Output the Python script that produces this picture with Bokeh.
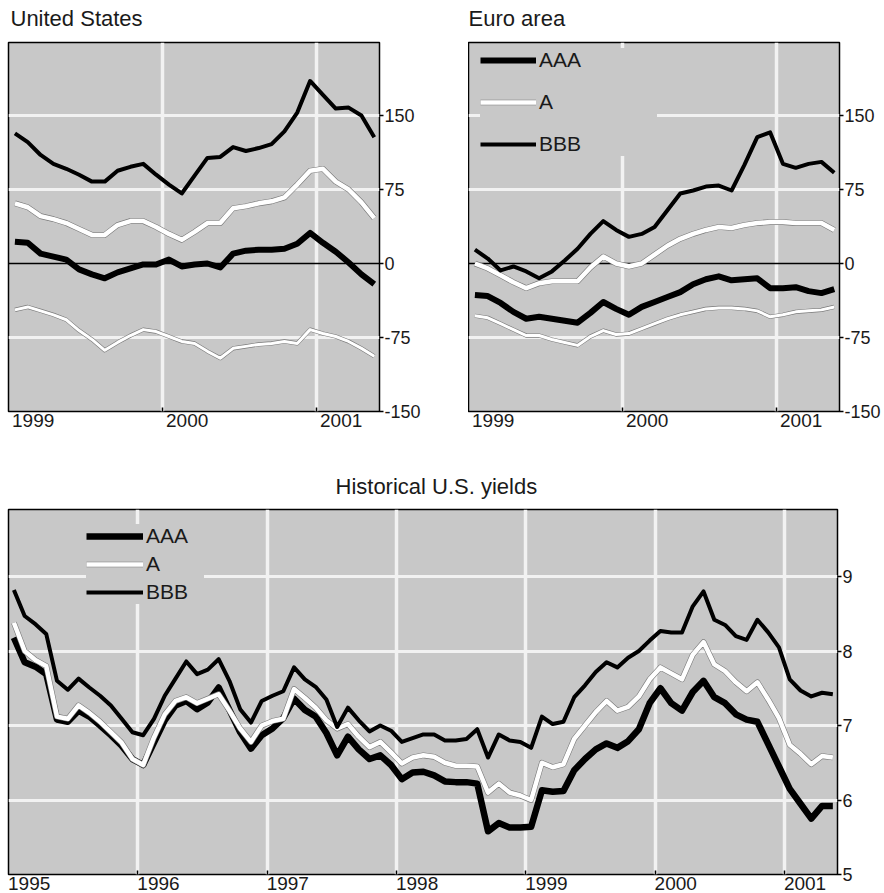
import pandas as pd
from bokeh.plotting import figure
from bokeh.models import (FixedTicker, Range1d, Span, Legend, LegendItem, Title,
                          CustomJSTickFormatter)
from bokeh.layouts import column, row
from bokeh.embed import file_html
from bokeh.resources import INLINE

# ---------------- data ----------------
top_months = [str(p) for p in pd.period_range("1999-01", "2001-05", freq="M")]
hist_months = [str(p) for p in pd.period_range("1995-01", "2001-05", freq="M")]

# United States spreads (basis points)
us_bbb = [132, 123, 110, 101, 96, 90, 83, 83, 94, 98, 101, 90, 80, 71, 89, 107,
          108, 118, 114, 117, 121, 134, 153, 185, 171, 157, 158, 150, 128]
us_a = [61, 57, 48, 45, 41, 35, 29, 29, 39, 43, 43, 37, 30, 24, 32, 41, 41, 56,
        58, 61, 63, 67, 80, 94, 96, 83, 75, 62, 46]
us_aaa = [22, 21, 10, 7, 4, -6, -11, -15, -9, -5, -1, -1, 4, -3, -1, 0, -4, 10,
          13, 14, 14, 15, 20, 31, 21, 12, 1, -11, -21]
us_aa = [-47, -44, -48, -52, -57, -68, -77, -88, -80, -73, -67, -69, -74, -79,
         -81, -89, -96, -86, -84, -82, -81, -79, -81, -67, -71, -74, -79, -86, -94]

# Euro area spreads (basis points)
eu_bbb = [14, 5, -7, -3, -8, -15, -8, 3, 15, 30, 43, 34, 27, 30, 37, 54, 71, 74,
          78, 79, 74, 100, 128, 133, 101, 97, 101, 103, 92]
eu_a = [0, -5, -12, -19, -25, -20, -18, -18, -18, -4, 7, 0, -3, 0, 9, 18, 25, 30,
        34, 37, 36, 39, 41, 42, 42, 41, 41, 41, 34]
eu_aaa = [-32, -33, -40, -49, -56, -54, -56, -58, -60, -50, -39, -46, -52, -44,
          -39, -34, -29, -21, -16, -13, -17, -16, -15, -25, -25, -24, -28, -30, -26]
eu_aa = [-53, -55, -61, -67, -73, -73, -77, -80, -83, -74, -68, -72, -71, -66,
         -61, -56, -52, -49, -46, -45, -45, -46, -48, -54, -52, -49, -48, -47, -44]

# Historical U.S. yields (percent)
hist_bbb = [8.82, 8.47, 8.36, 8.23, 7.60, 7.48, 7.63, 7.51, 7.40, 7.27, 7.09, 6.91,
            6.87, 7.09, 7.40, 7.63, 7.86, 7.69, 7.75, 7.89, 7.60, 7.22, 7.04, 7.33,
            7.40, 7.46, 7.78, 7.62, 7.52, 7.35, 6.98, 7.24, 7.07, 6.92, 7.00, 6.93,
            6.78, 6.83, 6.88, 6.88, 6.80, 6.80, 6.82, 6.95, 6.57, 6.88, 6.80, 6.78,
            6.70, 7.12, 7.02, 7.05, 7.38, 7.54, 7.72, 7.85, 7.78, 7.91, 8.00, 8.14,
            8.27, 8.25, 8.25, 8.60, 8.80, 8.42, 8.35, 8.20, 8.15, 8.42, 8.25, 8.05,
            7.62, 7.47, 7.39, 7.44, 7.42]
hist_a = [8.38, 8.00, 7.88, 7.80, 7.12, 7.09, 7.27, 7.17, 7.05, 6.91, 6.77, 6.55,
          6.47, 6.84, 7.15, 7.33, 7.38, 7.30, 7.36, 7.42, 7.20, 6.96, 6.78, 7.00,
          7.06, 7.09, 7.49, 7.37, 7.24, 7.07, 6.96, 7.02, 6.85, 6.71, 6.78, 6.64,
          6.49, 6.57, 6.60, 6.58, 6.50, 6.46, 6.46, 6.45, 6.10, 6.22, 6.10, 6.06,
          6.00, 6.50, 6.44, 6.48, 6.82, 7.00, 7.18, 7.33, 7.20, 7.25, 7.39, 7.62,
          7.78, 7.70, 7.62, 7.95, 8.12, 7.82, 7.73, 7.58, 7.46, 7.58, 7.35, 7.10,
          6.74, 6.62, 6.48, 6.59, 6.57]
hist_aaa = [8.18, 7.85, 7.79, 7.69, 7.08, 7.05, 7.20, 7.12, 7.00, 6.87, 6.73, 6.55,
            6.47, 6.77, 7.07, 7.27, 7.33, 7.22, 7.31, 7.51, 7.21, 6.91, 6.69, 6.87,
            6.96, 7.10, 7.36, 7.21, 7.12, 6.90, 6.60, 6.85, 6.68, 6.55, 6.60, 6.47,
            6.28, 6.37, 6.38, 6.33, 6.25, 6.24, 6.24, 6.22, 5.58, 5.69, 5.63, 5.63,
            5.64, 6.13, 6.11, 6.12, 6.40, 6.55, 6.68, 6.76, 6.70, 6.79, 6.95, 7.30,
            7.50, 7.30, 7.20, 7.45, 7.60, 7.38, 7.30, 7.15, 7.08, 7.05, 6.75, 6.45,
            6.15, 5.95, 5.75, 5.92, 5.92]

top_years = [1999, 2000, 2001]
hist_years = [1995, 1996, 1997, 1998, 1999, 2000, 2001]
spread_ticks = [-150, -75, 0, 75, 150]
yield_ticks = [5, 6, 7, 8, 9]


def frac_year(months):
    out = []
    for m in months:
        y, mo = m.split("-")
        out.append(int(y) + (int(mo) - 0.5) / 12)
    return out


tx = frac_year(top_months)
hx = frac_year(hist_months)

# ---------------- style ----------------
FONT = "Liberation Sans"
BG = "#c8c8c8"
GRID = "#f2f2f2"
TEXT = "#1a1a1a"
EDGE = "#7a7a7a"
LABEL_SHIFT = 0.16


def make_fig(title, title_offset, gap, xr, yr, fw, fh, mbl, mbr, mbt, mbb,
             years, yticks, ygrid):
    p = figure(title=None, frame_width=fw, frame_height=fh,
               x_range=Range1d(*xr), y_range=Range1d(*yr),
               y_axis_location="right", toolbar_location=None, output_backend="svg",
               min_border_left=mbl, min_border_right=mbr, min_border_top=mbt,
               min_border_bottom=mbb)
    # thin spacer title next to the frame, then the real title above it
    p.add_layout(Title(text=" ", text_font_size="1px", standoff=gap), "above")
    p.add_layout(Title(text=title, text_font=FONT, text_font_size="22px",
                       text_font_style="normal", text_color=TEXT, align="left",
                       offset=title_offset, standoff=6), "above")
    p.background_fill_color = BG
    p.border_fill_color = "white"
    p.outline_line_color = "black"
    p.outline_line_width = 1.5

    xa = p.xaxis[0]
    xa.ticker = FixedTicker(ticks=[y + LABEL_SHIFT for y in years],
                            minor_ticks=[y for y in years[1:]])
    xa.formatter = CustomJSTickFormatter(code="return Math.floor(tick).toString();")
    xa.major_tick_line_color = None
    xa.major_tick_in = 0
    xa.major_tick_out = 0
    xa.minor_tick_in = 4
    xa.minor_tick_out = 0
    xa.minor_tick_line_color = "black"
    xa.minor_tick_line_width = 1.5
    xa.axis_line_color = None
    xa.major_label_text_font = FONT
    xa.major_label_text_font_size = "19px"
    xa.major_label_text_color = TEXT
    xa.major_label_standoff = 2

    ya = p.yaxis[0]
    ya.ticker = FixedTicker(ticks=yticks)
    ya.formatter = CustomJSTickFormatter(code="return tick.toString();")
    ya.major_tick_in = 0
    ya.major_tick_out = 4
    ya.major_tick_line_width = 1.5
    ya.minor_tick_line_color = None
    ya.axis_line_color = None
    ya.major_label_text_font = FONT
    ya.major_label_text_font_size = "18px"
    ya.major_label_text_color = TEXT
    ya.major_label_standoff = 1

    p.xgrid.ticker = FixedTicker(ticks=years[1:])
    p.ygrid.ticker = FixedTicker(ticks=ygrid)
    p.xgrid.grid_line_color = GRID
    p.ygrid.grid_line_color = GRID
    p.xgrid.grid_line_width = 3.5
    p.ygrid.grid_line_width = 3
    return p


def white_line(p, x, y, w):
    outer = p.line(x, y, line_color=EDGE, line_width=w + 1.2, line_join="round")
    inner = p.line(x, y, line_color="white", line_width=w, line_join="round")
    return [outer, inner]


def spread_panel(title, offset, fw, mbl, mbr, bbb, a, aaa, aa):
    p = make_fig(title, offset, 6, (1999.0, 2001.409), (-150, 224), fw, 369, mbl, mbr,
                 39, 57, top_years, spread_ticks, [-75, 75, 150])
    p.add_layout(Span(location=0, dimension="width", line_color="black",
                      line_width=1.5, level="underlay"))
    white_line(p, tx, aa, 3.0)
    r_aaa = p.line(tx, aaa, line_color="black", line_width=6, line_join="round")
    r_a = white_line(p, tx, a, 4.5)
    r_bbb = p.line(tx, bbb, line_color="black", line_width=4, line_join="round")
    return p, r_aaa, r_a, r_bbb


def style_legend(lg, pad, spacing, gw, lw):
    lg.background_fill_color = BG
    lg.background_fill_alpha = 1.0
    lg.border_line_color = None
    lg.padding = pad
    lg.spacing = spacing
    lg.margin = 0
    lg.glyph_width = gw
    lg.glyph_height = 24
    lg.label_height = 24
    lg.label_width = lw
    lg.label_standoff = 3
    lg.label_text_font = FONT
    lg.label_text_font_size = "21px"
    lg.label_text_color = TEXT


p1, _, _, _ = spread_panel("United States", 2, 371, 8, 89, us_bbb, us_a, us_aaa, us_aa)
p2, e_aaa, e_a, e_bbb = spread_panel("Euro area", 0, 371, 0, 44, eu_bbb, eu_a, eu_aaa, eu_aa)

lg2 = Legend(items=[LegendItem(label="AAA", renderers=[e_aaa]),
                    LegendItem(label="A", renderers=e_a),
                    LegendItem(label="BBB", renderers=[e_bbb])],
             location=(12, 255))
style_legend(lg2, 4, 18, 56, 118)
p2.add_layout(lg2)

p3 = make_fig("Historical U.S. yields", 327, 5, (1995.0, 2001.411), (5, 9.9), 829, 365,
              8, 30, 38, 24, hist_years, yield_ticks, [6, 7, 8, 9])
h_aaa = p3.line(hx, hist_aaa, line_color="black", line_width=6.5, line_join="round")
h_a = white_line(p3, hx, hist_a, 4.5)
h_bbb = p3.line(hx, hist_bbb, line_color="black", line_width=4, line_join="round")

lg3 = Legend(items=[LegendItem(label="AAA", renderers=[h_aaa]),
                    LegendItem(label="A", renderers=h_a),
                    LegendItem(label="BBB", renderers=[h_bbb])],
             location=(78, 270))
style_legend(lg3, 6, 4, 57, 58)
p3.add_layout(lg3)

layout = column(row(p1, p2), p3)
open("out.html", "w").write(file_html(layout, INLINE))
